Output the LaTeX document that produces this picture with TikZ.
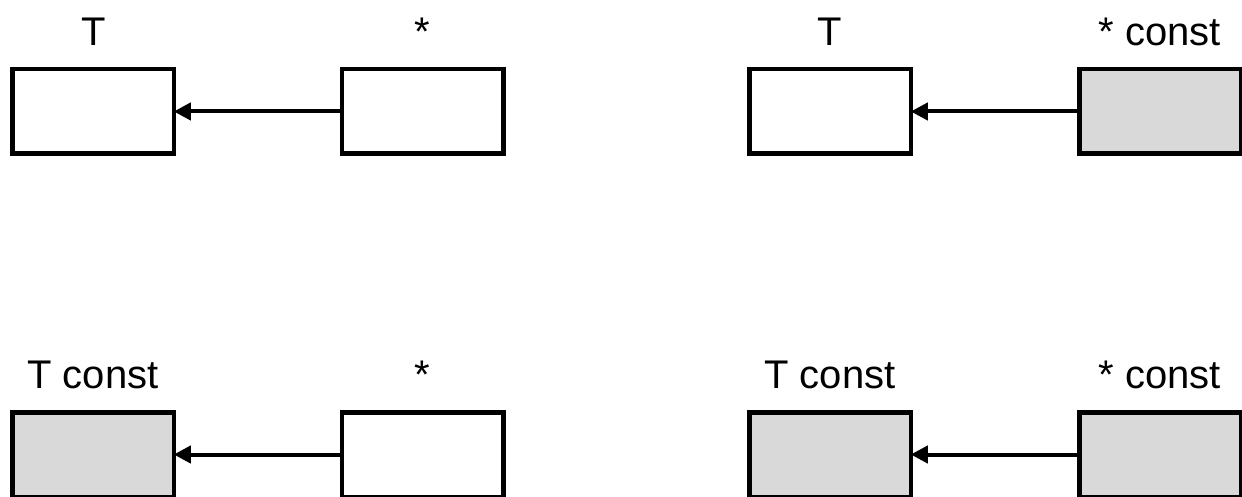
\documentclass[tikz,border=0pt]{standalone}
\usepackage{fontspec}
\setmainfont{Liberation Sans}
\usetikzlibrary{arrows.meta}
\definecolor{boxgray}{RGB}{217,217,217}
\begin{document}
\begin{tikzpicture}[x=1pt,y=-1pt,
  cell/.style={draw=black, line width=4.5pt, minimum width=161.5pt, minimum height=84.5pt, inner sep=0pt, outer sep=0pt, fill=white},
  constcell/.style={cell, fill=boxgray},
  lbl/.style={font=\fontsize{40}{42}\selectfont, anchor=base, inner sep=0pt},
  ptr/.style={line width=4pt, -{Triangle[length=17pt,width=17pt]}}]
\useasboundingbox (0,0) rectangle (1242,497);
% top-left: T <- *
\node[cell] (a1) at (93,111.5) {};
\node[cell] (a2) at (422.5,111.5) {};
\node[lbl] (la1) at (94,46) {T};
\node[lbl] (la2) at (422.5,46) {*};
\draw[ptr] (a2.west) -- (a1.east);
% top-right: T <- * const
\node[cell] (b1) at (830,111.5) {};
\node[constcell] (b2) at (1160,111.5) {};
\node[lbl] (lb1) at (830,46) {T};
\node[lbl] (lb2) at (1160,46) {* const};
\draw[ptr] (b2.west) -- (b1.east);
% bottom-left: T const <- *
\node[constcell] (c1) at (93,454.5) {};
\node[cell] (c2) at (422.5,454.5) {};
\node[lbl] (lc1) at (93,388) {T const};
\node[lbl] (lc2) at (422.5,388) {*};
\draw[ptr] (c2.west) -- (c1.east);
% bottom-right: T const <- * const
\node[constcell] (d1) at (830,454.5) {};
\node[constcell] (d2) at (1160,454.5) {};
\node[lbl] (ld1) at (830,388) {T const};
\node[lbl] (ld2) at (1160,388) {* const};
\draw[ptr] (d2.west) -- (d1.east);
\end{tikzpicture}
\end{document}
